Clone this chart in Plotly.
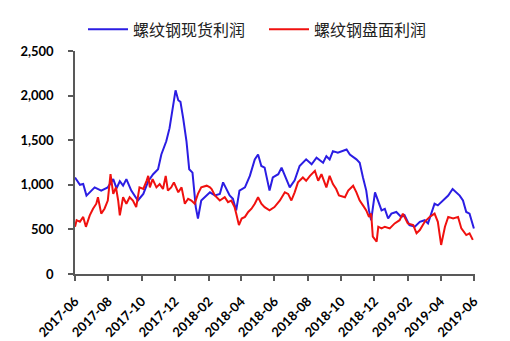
import plotly.graph_objects as go

# 螺纹钢现货利润 (spot profit), yuan/ton
spot_dates = [
    "2017-06-01", "2017-06-10", "2017-06-16", "2017-06-22", "2017-07-07", "2017-07-19",
    "2017-07-31", "2017-08-10", "2017-08-16", "2017-08-22", "2017-08-28", "2017-09-03",
    "2017-09-12", "2017-09-24", "2017-10-04", "2017-10-13", "2017-10-22", "2017-10-31",
    "2017-11-06", "2017-11-15", "2017-11-21", "2017-11-27", "2017-12-02", "2017-12-07",
    "2017-12-11", "2017-12-16", "2017-12-22", "2017-12-27", "2018-01-02", "2018-01-08",
    "2018-01-12", "2018-01-18", "2018-01-28", "2018-02-03", "2018-02-12", "2018-02-21",
    "2018-02-27", "2018-03-05", "2018-03-11", "2018-03-17", "2018-03-23", "2018-03-29",
    "2018-04-08", "2018-04-17", "2018-04-26", "2018-05-02", "2018-05-08", "2018-05-14",
    "2018-05-23", "2018-05-29", "2018-06-08", "2018-06-14", "2018-06-20", "2018-06-29",
    "2018-07-08", "2018-07-17", "2018-07-29", "2018-08-08", "2018-08-17", "2018-08-29",
    "2018-09-04", "2018-09-10", "2018-09-16", "2018-09-25", "2018-10-11", "2018-10-17",
    "2018-10-29", "2018-11-04", "2018-11-10", "2018-11-16", "2018-11-21", "2018-11-25",
    "2018-12-02", "2018-12-08", "2018-12-14", "2018-12-20", "2018-12-26", "2019-01-01",
    "2019-01-10", "2019-01-19", "2019-01-25", "2019-02-03", "2019-02-13", "2019-02-22",
    "2019-03-03", "2019-03-09", "2019-03-15", "2019-03-21", "2019-03-27", "2019-04-05",
    "2019-04-15", "2019-04-23", "2019-04-30", "2019-05-06", "2019-05-12", "2019-05-18",
    "2019-05-24", "2019-05-30", "2019-06-01",
]
spot_profit = [
    1082, 1000, 1009, 879, 971, 935,
    971, 1064, 960, 1040, 990, 1064,
    935, 824, 898, 1040, 1119, 1175,
    1340, 1488, 1635, 1856, 2059, 1948,
    1930, 1745, 1488, 1175, 1137, 750,
    622, 824, 879, 916, 880, 898,
    1027, 953, 880, 843, 713, 935,
    971, 1100, 1285, 1340, 1211, 1193,
    935, 1082, 1119, 1193, 1100, 971,
    1050, 1211, 1285, 1230, 1303, 1248,
    1321, 1285, 1377, 1359, 1396, 1340,
    1285, 1248, 1082, 935, 713, 603,
    916, 824, 713, 730, 622, 677,
    695, 640, 660, 548, 530, 585,
    603, 567, 677, 788, 769, 824,
    879, 953, 916, 879, 824, 695,
    677, 567, 511,
]

# 螺纹钢盘面利润 (futures-implied profit), yuan/ton
futures_dates = [
    "2017-06-01", "2017-06-04", "2017-06-10", "2017-06-16", "2017-06-21", "2017-06-28",
    "2017-07-04", "2017-07-10", "2017-07-13", "2017-07-16", "2017-07-19", "2017-07-25",
    "2017-07-31", "2017-08-05", "2017-08-10", "2017-08-15", "2017-08-19", "2017-08-22",
    "2017-08-28", "2017-09-03", "2017-09-09", "2017-09-15", "2017-09-21", "2017-09-27",
    "2017-10-04", "2017-10-10", "2017-10-13", "2017-10-16", "2017-10-21", "2017-10-28",
    "2017-11-03", "2017-11-09", "2017-11-14", "2017-11-18", "2017-11-24", "2017-11-29",
    "2017-12-07", "2017-12-13", "2017-12-19", "2017-12-25", "2017-12-31", "2018-01-06",
    "2018-01-12", "2018-01-18", "2018-01-28", "2018-02-03", "2018-02-06", "2018-02-12",
    "2018-02-21", "2018-03-02", "2018-03-08", "2018-03-14", "2018-03-20", "2018-03-23",
    "2018-03-28", "2018-04-02", "2018-04-08", "2018-04-14", "2018-04-20", "2018-04-26",
    "2018-05-02", "2018-05-08", "2018-05-14", "2018-05-23", "2018-06-01", "2018-06-11",
    "2018-06-20", "2018-06-26", "2018-07-02", "2018-07-08", "2018-07-14", "2018-07-23",
    "2018-07-29", "2018-08-05", "2018-08-14", "2018-08-20", "2018-08-26", "2018-09-04",
    "2018-09-10", "2018-09-16", "2018-09-22", "2018-09-27", "2018-10-08", "2018-10-14",
    "2018-10-23", "2018-10-29", "2018-11-04", "2018-11-10", "2018-11-16", "2018-11-21",
    "2018-11-25", "2018-11-28", "2018-12-05", "2018-12-08", "2018-12-14", "2018-12-20",
    "2018-12-29", "2019-01-07", "2019-01-16", "2019-01-22", "2019-01-31", "2019-02-10",
    "2019-02-16", "2019-02-22", "2019-03-03", "2019-03-12", "2019-03-21", "2019-03-27",
    "2019-04-02", "2019-04-09", "2019-04-15", "2019-04-24", "2019-05-03", "2019-05-09",
    "2019-05-18", "2019-05-24", "2019-05-30",
]
futures_profit = [
    529, 603, 585, 640, 529, 658,
    732, 788, 861, 750, 677, 732,
    824, 1119, 898, 971, 824, 658,
    861, 788, 861, 824, 750, 971,
    953, 1045, 1100, 971, 1064, 971,
    1008, 953, 1100, 935, 971, 1027,
    916, 971, 788, 843, 824, 788,
    898, 971, 990, 971, 953, 880,
    824, 861, 806, 824, 750, 677,
    548, 622, 640, 695, 732, 788,
    861, 788, 750, 714, 750, 824,
    916, 898, 824, 916, 1027, 1082,
    1045, 1100, 1156, 1045, 1119, 971,
    1100, 1008, 953, 880, 861, 935,
    990, 916, 824, 769, 713, 640,
    677, 418, 363, 530, 511, 530,
    511, 567, 603, 677, 567, 548,
    456, 493, 585, 640, 677, 585,
    326, 530, 640, 622, 640, 511,
    437, 456, 382,
]

series_names = ["螺纹钢现货利润", "螺纹钢盘面利润"]
y_ticks = [0, 500, 1000, 1500, 2000, 2500]

axis_color = "#595959"
label_font = "Lato, 'DejaVu Sans', sans-serif"

fig = go.Figure()
fig.add_trace(go.Scatter(
    x=spot_dates, y=spot_profit, name=series_names[0], mode="lines",
    line=dict(color="#2B1DE3", width=2),
))
fig.add_trace(go.Scatter(
    x=futures_dates, y=futures_profit, name=series_names[1], mode="lines",
    line=dict(color="#F0110F", width=2),
))

fig.update_layout(
    width=510, height=341,
    margin=dict(l=75, r=35, t=48, b=67),
    paper_bgcolor="white", plot_bgcolor="white",
    showlegend=True,
    legend=dict(
        orientation="h", x=0.02, xanchor="left", y=1.097, yanchor="middle",
        font=dict(family="'Noto Sans CJK SC', sans-serif", size=16, color="#222222"),
        itemwidth=40, entrywidth=126, tracegroupgap=0, bgcolor="rgba(0,0,0,0)",
    ),
)
fig.update_xaxes(
    type="date", range=["2017-06-01", "2019-06-03"],
    tick0="2017-06-01", dtick="M2", tickformat="%Y-%m", tickangle=-45,
    ticks="outside", ticklen=5, tickwidth=1.5, tickcolor=axis_color,
    ticklabelstandoff=8, automargin=False,
    showline=True, linecolor=axis_color, linewidth=1.5,
    showgrid=False, zeroline=False,
    tickfont=dict(size=13, family=label_font, color="#000000", weight="bold"),
)
fig.update_yaxes(
    range=[0, 2500], tickvals=y_ticks, tickformat=",",
    ticks="outside", ticklen=5, tickwidth=1.5, tickcolor=axis_color,
    ticklabelstandoff=12, automargin=False,
    showline=True, linecolor=axis_color, linewidth=1.5,
    showgrid=False, zeroline=False,
    tickfont=dict(size=13, family=label_font, color="#000000", weight="bold"),
)

fig.write_html("out.html")
